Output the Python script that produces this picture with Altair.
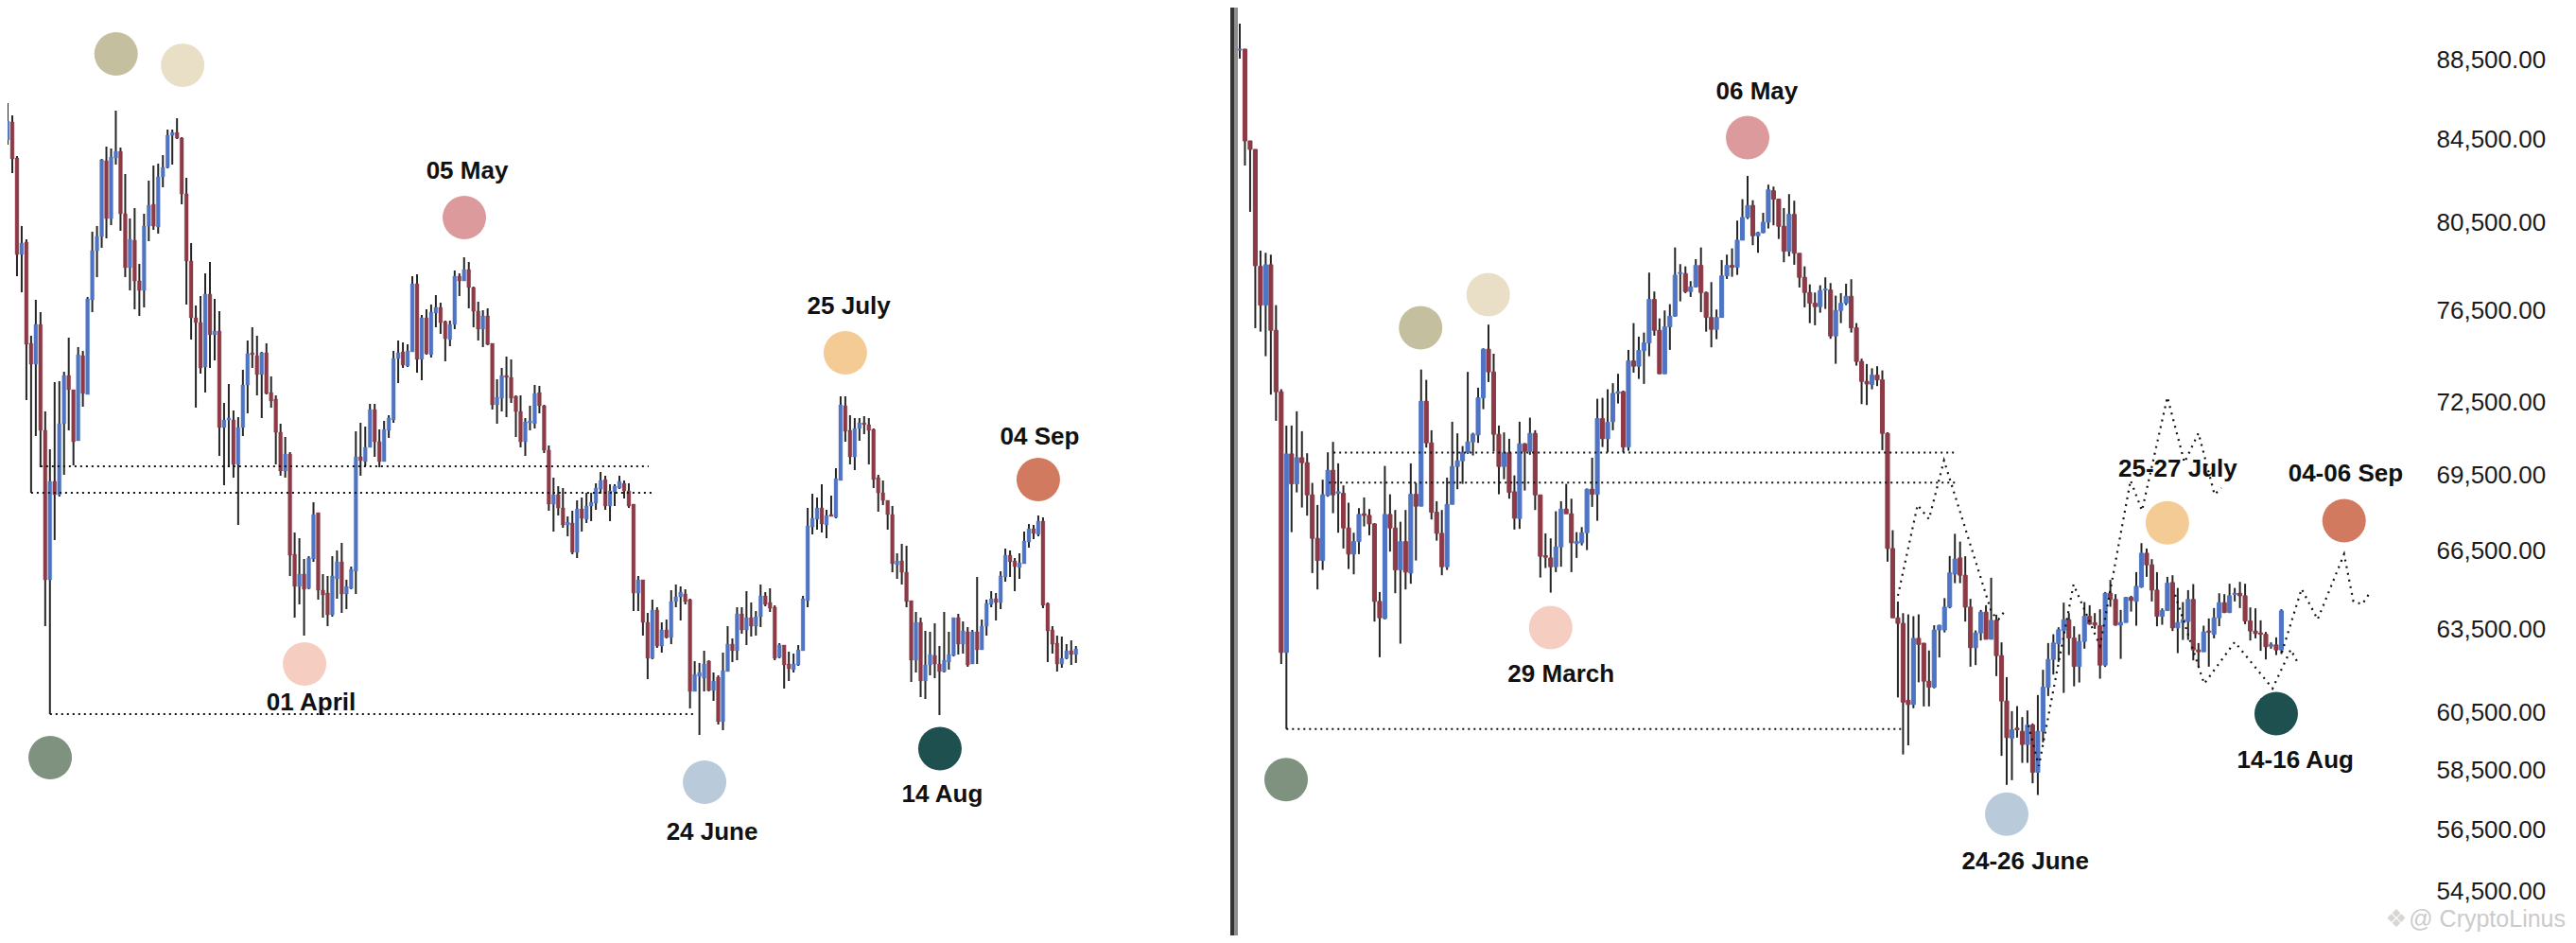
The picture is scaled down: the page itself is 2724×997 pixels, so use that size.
import altair as alt
import pandas as pd

# ---------- left panel (no price axis: relative price level) ----------
l_open = [
827,852,871,833,731,744,637,615,657,545,
387,491,477,552,603,588,534,624,583,683,
735,750,830,769,833,840,774,717,746,703,
693,761,784,760,813,823,857,860,854,795,
724,664,659,612,689,646,650,548,556,556,
509,548,593,627,624,604,627,585,578,543,
502,520,414,380,393,378,409,458,376,373,
350,388,406,372,378,396,517,512,527,567,
533,512,545,556,621,628,613,628,700,620,
664,625,669,675,660,641,657,708,703,715,
696,671,652,666,637,572,579,603,601,581,
565,533,553,552,585,571,524,467,477,463,
445,447,416,462,451,465,468,483,493,465,
480,484,489,481,467,373,387,342,304,355,
317,334,326,364,369,372,366,269,285,283,
301,270,284,237,290,319,312,351,334,347,
338,348,370,363,358,305,318,298,292,297,
312,365,443,451,463,445,456,453,492,571,
545,517,547,553,551,546,495,479,471,456,
403,407,395,365,302,342,280,297,307,298,
290,300,307,347,319,332,298,332,313,338,
361,367,363,390,413,407,400,404,427,441,
435,449,362,334,320,298,304,312,308]
l_close = [
852,872,832,731,743,636,615,657,545,387,
491,477,552,603,588,533,625,584,684,735,
750,831,769,834,840,774,717,747,703,693,
761,783,761,813,823,857,860,854,795,724,
664,659,611,689,646,650,548,556,558,509,
548,593,626,625,604,627,584,576,543,502,
520,413,380,393,377,410,456,376,371,350,
391,406,372,380,398,517,513,527,567,533,
512,546,558,621,627,614,629,700,620,664,
626,670,675,659,642,657,708,703,715,696,
671,652,666,636,572,580,603,601,579,565,
533,554,555,584,571,524,467,477,463,445,
448,416,462,452,465,469,484,492,465,481,
486,491,481,465,373,387,342,304,355,317,
334,326,364,369,374,364,269,287,289,298,
270,280,237,291,319,312,351,334,347,338,
348,370,361,357,304,318,297,293,298,313,
367,444,452,463,446,455,454,494,572,544,
517,547,553,551,545,493,479,471,456,404,
407,395,364,302,342,280,297,308,298,290,
302,308,347,319,333,297,332,313,338,362,
367,363,391,413,406,401,405,428,441,436,
449,360,333,319,298,304,312,308,314]
l_high = [
867,891,878,835,761,747,645,683,670,565,
525,596,597,607,643,588,633,629,686,755,
761,832,845,843,883,844,816,769,780,721,
774,809,825,827,836,863,863,875,855,812,
743,677,687,711,723,684,671,574,594,566,
559,609,640,654,645,628,637,602,582,552,
538,522,437,431,409,412,469,458,393,391,
412,418,426,387,401,544,553,549,573,573,
546,555,561,629,640,638,636,708,710,667,
673,678,688,680,661,661,714,711,728,723,
697,681,672,674,637,599,611,623,620,582,
582,558,571,593,592,572,529,495,486,484,
454,460,471,474,479,479,489,501,497,488,
488,497,492,489,467,391,387,352,366,358,
342,345,376,382,380,377,367,301,299,312,
302,289,286,310,338,325,358,358,375,363,
354,382,374,378,360,320,318,311,309,318,
370,463,478,474,488,461,476,505,581,581,
561,558,558,560,558,547,498,492,471,465,
415,425,423,365,353,347,333,332,341,317,
353,332,347,351,343,337,334,390,345,366,
375,373,396,420,418,410,415,438,446,445,
455,453,363,338,328,327,319,323,317]
l_low = [
807,847,817,708,691,577,479,539,506,338,
245,429,475,498,545,508,534,570,583,670,
707,738,748,762,826,756,707,693,673,666,
675,745,757,753,802,822,826,853,784,678,
641,569,605,585,611,619,518,487,506,495,
445,539,563,611,582,558,583,569,509,497,
495,391,347,361,328,377,406,366,347,338,
348,367,352,356,377,372,497,507,527,517,
506,512,537,553,595,611,612,628,606,598,
625,622,654,647,618,634,652,687,703,674,
654,640,633,635,567,552,565,559,574,538,
527,518,545,547,563,521,460,438,455,442,
433,414,410,438,447,449,461,478,461,449,
465,483,473,463,354,354,328,282,303,315,
310,325,319,358,344,361,251,269,223,269,
269,259,234,228,290,300,302,330,318,327,
328,337,359,353,302,304,272,280,289,296,
312,358,435,440,437,431,454,452,492,533,
509,503,534,541,509,484,459,466,440,395,
388,382,358,279,289,263,261,286,283,244,
289,292,306,308,309,295,298,298,313,328,
358,344,356,385,390,375,388,404,421,430,
433,357,300,309,290,294,303,297,299]

# ---------- right panel (price axis) ----------
r_open = [
89040,89088,84447,84030,78488,76732,78561,75614,72954,62661,
70356,69137,70201,69997,68695,66975,66116,68668,69687,68757,
68757,67381,66361,66848,67942,67878,67542,64556,63917,67916,
67381,65752,66848,65632,68718,68243,72550,70811,68003,67170,
65875,68317,69841,70074,70422,70851,71137,72695,74786,73803,
71165,69841,70406,68820,67754,70773,70460,71204,68695,66300,
66214,65875,66642,68129,67942,66774,66800,67195,68923,68718,
71820,70980,71688,72884,72954,70639,74277,74048,74728,75059,
76988,75614,73721,75766,76243,78160,78160,77344,77557,78531,
77300,76184,75656,76184,78055,78531,78445,79696,80758,81327,
79902,80048,80536,82028,81624,80345,79183,80905,79090,77987,
77300,76817,76664,77412,77412,75366,76495,76817,77130,75724,
74254,73396,73259,73663,73461,71204,66580,63942,63735,60936,
60789,63181,63001,61622,61408,63490,63490,64343,65593,66214,
65549,64343,62835,63381,64154,63146,63848,62547,60913,59607,
59956,59846,59388,60066,58432,59846,61405,62408,62984,63473,
63872,63192,62155,63067,63998,63754,63648,62202,64865,64631,
63672,63767,64709,64556,65102,66397,65948,64983,63998,64211,
65272,63567,63767,63802,64631,62756,62687,63451,63332,63942,
64510,64140,64815,64865,64769,63823,63451,63381,63332,62894,
62939,62756]
r_close = [
89088,84447,84030,78518,76732,78561,75614,72954,62661,70356,
69137,70201,69997,68695,66975,66116,68695,69687,68695,68820,
67381,66361,66848,67916,67878,67542,64556,63942,67916,67381,
65752,66848,65669,68718,68243,72550,70811,68003,67170,65875,
68317,69841,70074,70422,70851,71165,72695,74786,73803,71165,
69841,70406,68794,67765,70773,70460,71204,68695,66280,66240,
65875,66642,68129,67942,66800,66848,67195,68923,68718,71820,
70980,71660,72884,72954,70639,74277,74048,74728,75059,76988,
75614,73721,75766,76243,78086,78203,77344,77557,78531,77300,
76184,75656,76184,78055,78531,78445,79696,80758,81327,79902,
80048,80536,82072,81624,80345,79183,80905,79090,77987,77300,
76817,76664,77387,77455,75366,76495,76817,77130,75724,74254,
73396,73287,73663,73461,71204,66580,63942,63735,60873,60789,
63181,62956,61622,61408,63490,63665,64343,65640,66172,65549,
64343,62835,63381,64154,63146,63848,62547,60913,59626,59900,
59900,59388,60066,58432,59846,61405,62408,63008,63497,63872,
63192,62155,63067,63998,63707,63672,62202,64865,64631,63672,
63767,64709,64591,65127,66397,65948,64983,63998,64211,65247,
63567,63767,63872,64631,62756,62687,63416,63402,63942,64510,
64140,64769,64865,64769,63823,63451,63357,63332,62870,62949,
62756,64200]
r_high = [
90424,89100,84447,84030,79214,79113,79026,76732,73060,71529,
71529,72125,71294,70383,69176,68292,69305,70422,70851,69969,
69076,68380,67195,68167,68593,68129,67568,64911,69865,68718,
68092,67627,68092,69969,69176,73905,73461,71333,68442,68092,
69392,71688,71204,70678,73803,71229,73126,74827,75866,74591,
71529,71243,70980,69480,71688,70800,71860,71333,68700,67170,
66975,68042,68442,69137,68542,67218,67416,68947,70201,72655,
72695,73060,73316,73721,73000,74757,75933,75337,75515,78203,
77344,76142,76495,76775,79359,78591,78488,77815,78820,79359,
77344,77771,76537,78777,79026,79315,80612,81624,82742,81574,
80092,80980,82318,82227,81650,81205,81866,81550,79026,78488,
77668,77300,77625,77987,77728,77158,77272,77698,77900,75933,
74375,74142,73958,74048,73868,71250,67293,64550,64115,64069,
64002,64069,63010,62735,63665,63680,64680,66290,67152,66848,
66280,64652,63473,64236,64414,65452,64058,63032,61769,60554,
60731,60344,60577,60122,61124,62032,63008,63332,63591,64510,
64118,63626,63332,64531,64414,64118,64261,64911,65369,64830,
64236,64720,64769,65669,66789,66580,66167,65669,64296,65489,
65549,65066,64531,64983,65211,63008,63648,63918,64307,64865,
64830,65225,65066,65297,65225,64332,64296,63848,63416,63032,
63216,64261]
r_low = [
88600,83244,81025,75711,75556,74481,72832,71727,62246,59923,
67218,68794,68190,67867,65632,65008,65752,68619,67965,67195,
66580,65788,65585,66361,67441,67095,63802,62488,63882,66459,
64865,62984,65008,65225,66116,68243,70616,67716,66885,65549,
65752,68317,68923,69137,70356,70291,70811,72216,73368,70460,
68718,69328,68542,67319,67345,68870,70319,68092,65462,65825,
64888,65669,65875,67942,65669,66214,66700,66518,68217,67664,
70639,70422,71333,72455,70422,70483,73770,73501,73287,74481,
75378,73721,73721,74757,76214,76902,77272,77102,77527,76424,
75556,74868,75225,76184,77914,78012,78098,79696,80683,79464,
79113,80018,80240,80390,79753,78678,78950,78561,77527,76634,
75933,75837,76394,76563,75241,74154,75933,76732,75515,74073,
72431,72391,73058,73195,70510,66070,63942,61040,59044,59357,
60657,61581,60721,60721,61364,62480,63399,64296,65247,65247,
63802,62145,62202,63101,63146,63146,61803,58995,58005,58164,
59626,58756,58756,58059,57664,59463,61091,61861,62315,61202,
62568,61437,61575,62800,63683,63532,61711,62134,64354,63648,
62429,63767,64175,63648,65066,65489,64556,63626,63683,64200,
63451,62638,63122,63122,62374,62145,62687,62145,63181,63632,
64118,64118,64556,64307,63707,63101,63181,62721,62408,62800,
62568,62604]

price_ticks = [88500,84500,80500,76500,72500,69500,66500,63500,60500,58500,56500,54500]

# reference levels: (start, end, level)
l_levels = [(8,137.2,507),(6,138.5,479),(10,147.3,245)]
r_levels = [(18.1,138.5,70406),(17.2,138.3,69183),(9,127.8,59923)]

# circles: (candle, level, colour)
C_GREEN,C_OLIVE,C_CREAM,C_ROSE,C_SALMON,C_SLATE,C_ORANGE,C_TEAL,C_TERRA = (
    "#7f917f","#c3bf9f","#e8dfc6","#dc9a9c","#f5cdc1","#b9cadb","#f4cb94","#1f5050","#d27a60")
l_circles = [(10.05,199,C_GREEN),(24.05,943,C_OLIVE),(38.2,931,C_CREAM),(98.05,770,C_ROSE),(64.1,298,C_SALMON),
             (149.1,173,C_SLATE),(179,627,C_ORANGE),(199.1,208.5,C_TEAL),(220,493,C_TERRA)]
r_circles = [(8.95,58180,C_GREEN),(34.9,75730,C_OLIVE),(47.95,77210,C_CREAM),(98,84605,C_ROSE),(60,63578,C_SALMON),
             (148,57025,C_SLATE),(179,67580,C_ORANGE),(200,60467,C_TEAL),(213.1,67670,C_TERRA)]

l_labels = [(98.65,819.5,"05 May"),(65.5,257.5,"01 April"),(150.7,120,"24 June"),
            (199.6,160,"14 Aug"),(179.75,676,"25 July"),(220.3,538,"04 Sep")]
r_labels = [(99.8,86924,"06 May"),(62,61861,"29 March"),(151.6,55451,"24-26 June"),
            (203.7,58842,"14-16 Aug"),(181,69741,"25-27 July"),(213.4,69545,"04-06 Sep")]

# dotted projection segments: (segment, candle, price)
projection = [
 ("A",127.0,64770),("A",130.8,68292),("A",133.0,67728),("A",135.9,70086),("A",145.1,64129),("A",146.4,63882),("A",147.8,64236),
 ("B",152.2,60055),("B",154.2,58649),("B",160.9,65198),("B",166.0,62904),("B",171.9,69278),("B",174.1,68066),("B",179.0,72724),
 ("B",182.3,70008),("B",185.0,71216),("B",188.1,68706),("B",189.4,68973),
 ("C",180.5,64805),("C",186.1,61530),("C",192.0,63043),("C",199.3,61361),("C",202.8,62766),("C",204.0,62350),
 ("D",201.1,62661),("D",204.9,65030),("D",208.0,63882),("D",213.1,66361),("D",214.9,64556),("D",216.6,64450),("D",217.8,64805),
]

H = 981
L_W, R_W = 1293, 1269
FONT = "Liberation Sans"

def frame(o, c, h, l):
    return pd.DataFrame({"i": range(len(o)), "o": o, "c": c, "h": h, "l": l,
                         "d": ["up" if b >= a else "down" for a, b in zip(o, c)]})

def panel(df, xs, ys, levels, circles, labels, up, down, edge_up, edge_down, body, stroke_w, axis):
    x = alt.X("i:Q", scale=xs, axis=None)
    base = alt.Chart(df)
    wicks = base.mark_rule(color="#252525", strokeWidth=2, clip=True).encode(
        x=x, y=alt.Y("l:Q", scale=ys, axis=axis), y2="h:Q")
    bodies = base.mark_bar(size=body, strokeWidth=stroke_w, clip=True).encode(
        x=x, y=alt.Y("o:Q", scale=ys, axis=axis), y2="c:Q",
        fill=alt.Fill("d:N", scale=alt.Scale(domain=["up","down"], range=[up, down]), legend=None),
        stroke=alt.Stroke("d:N", scale=alt.Scale(domain=["up","down"], range=[edge_up, edge_down]), legend=None),
    )
    lv = pd.DataFrame(levels, columns=["a","b","v"])
    dots = alt.Chart(lv).mark_rule(color="#111111", strokeWidth=2, strokeDash=[2,4]).encode(
        x=alt.X("a:Q", scale=xs, axis=None), x2="b:Q", y=alt.Y("v:Q", scale=ys, axis=axis))
    cd = pd.DataFrame(circles, columns=["i","v","col"])
    circ = alt.Chart(cd).mark_circle(size=2116, opacity=1).encode(
        x=alt.X("i:Q", scale=xs, axis=None), y=alt.Y("v:Q", scale=ys, axis=axis),
        color=alt.Color("col:N", scale=None))
    ld = pd.DataFrame(labels, columns=["i","v","t"])
    text = alt.Chart(ld).mark_text(font=FONT, fontWeight="bold", fontSize=26, color="#111111", baseline="middle").encode(
        x=alt.X("i:Q", scale=xs, axis=None), y=alt.Y("v:Q", scale=ys, axis=axis), text="t:N")
    return [wicks, bodies, dots, circ, text]

lx = alt.Scale(domain=[1.0, 260.8], nice=False, zero=False, padding=0)
ly = alt.Scale(domain=[11, 992], nice=False, zero=False)
rx = alt.Scale(domain=[-1.82, 229.75], nice=False, zero=False, padding=0)
ry = alt.Scale(type="log", domain=[53129, 91276], nice=False)

left_layers = panel(frame(l_open,l_close,l_high,l_low), lx, ly, l_levels, l_circles, l_labels,
                    "#4f74c3", "#8b3a46", "#4f74c3", "#8b3a46", 3.8, 0.4, None)
price_axis = alt.Axis(values=price_ticks, format=",.2f", orient="right", title=None, domain=False, ticks=False,
                      grid=False, labelFont=FONT, labelFontSize=26, labelColor="#1a1a1a", labelPadding=6,
                      labelOverlap=False, labelBound=False, labelFlush=False)
right_layers = panel(frame(r_open,r_close,r_high,r_low), rx, ry, r_levels, r_circles, r_labels,
                     "#5b8fe6", "#cc555c", "#3f6db3", "#8f3a3f", 4.1, 1.0, price_axis)

proj_df = pd.DataFrame(projection, columns=["seg","i","v"])
proj = alt.Chart(proj_df).mark_line(color="#111111", strokeWidth=2.2, strokeDash=[2,5.2]).encode(
    x=alt.X("i:Q", scale=rx, axis=None), y=alt.Y("v:Q", scale=ry, axis=price_axis), detail="seg:N")

helper = pd.DataFrame({"a":[0]})
sep_dark = alt.Chart(helper).mark_rect(color="#333333").encode(
    x=alt.value(0), x2=alt.value(4), y=alt.value(0), y2=alt.value(H))
sep_gray = alt.Chart(helper).mark_rect(color="#8e8e8e").encode(
    x=alt.value(4), x2=alt.value(8), y=alt.value(0), y2=alt.value(H))
wm_text = alt.Chart(pd.DataFrame({"t":["@ CryptoLinus"]})).mark_text(
    font="Liberation Sans", fontSize=25, color="#cbcbcb", align="right", baseline="middle").encode(
    x=alt.value(1412), y=alt.value(964), text="t:N")
wm_icon = alt.Chart(pd.DataFrame({"t":["❖"]})).mark_text(
    font="DejaVu Sans", fontSize=26, color="#d6d6d6", align="center", baseline="middle").encode(
    x=alt.value(1233), y=alt.value(964), text="t:N")

left = alt.layer(*left_layers).properties(width=L_W, height=H)
right = alt.layer(*right_layers, proj, sep_dark, sep_gray, wm_text, wm_icon).properties(width=R_W, height=H)

chart = alt.hconcat(left, right, spacing=0).resolve_scale(x="independent", y="independent").properties(
    padding=0, background="#ffffff"
).configure_view(stroke=None)

chart.save("out.html", embed_options={"renderer": "svg", "actions": False})
